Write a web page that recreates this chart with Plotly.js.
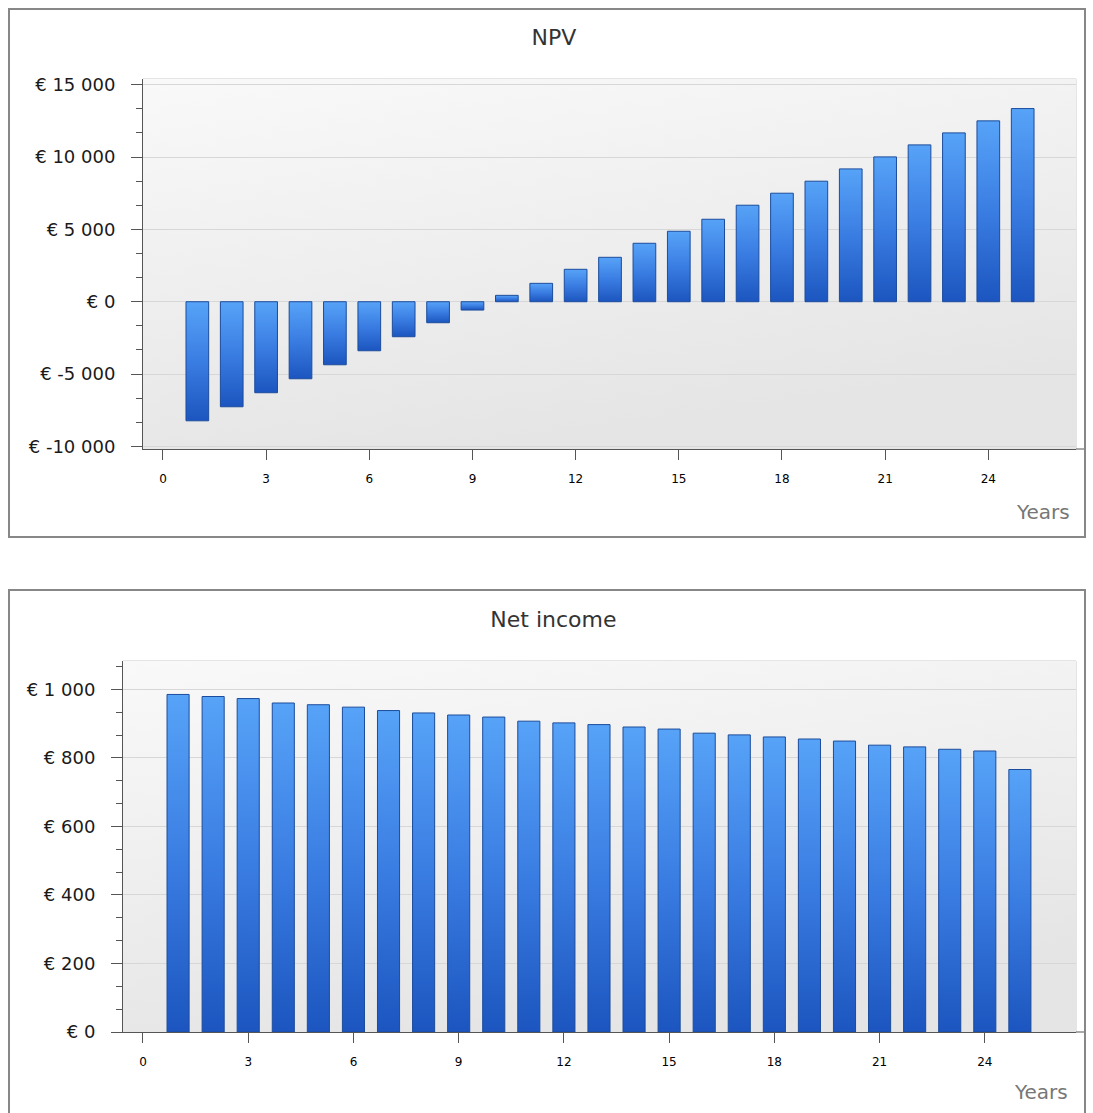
<!DOCTYPE html>
<html>
<head>
<meta charset="utf-8">
<script src="https://cdn.plot.ly/plotly-3.0.1.min.js"></script>
<style>
html,body{margin:0;padding:0;background:#fff;width:1093px;height:1113px;overflow:hidden;}
.frame{position:absolute;left:8px;width:1078px;box-sizing:border-box;border:2px solid #878787;background:#fff;}
#npv{top:8px;height:530px;}
#net{top:589px;height:540px;}
</style>
</head>
<body>
<svg width="0" height="0" style="position:absolute">
  <defs>
    <linearGradient id="barGrad" x1="0" y1="0" x2="0" y2="1">
      <stop offset="0" stop-color="#57a3f8"/>
      <stop offset="0.5" stop-color="#3a7de2"/>
      <stop offset="1" stop-color="#1c55bf"/>
    </linearGradient>
  </defs>
</svg>
<div id="npv" class="frame"></div>
<div id="net" class="frame"></div>
<script>
// ---- data ----
const years = [1,2,3,4,5,6,7,8,9,10,11,12,13,14,15,16,17,18,19,20,21,22,23,24,25];
const npvValues = [-8230,-7260,-6290,-5325,-4357,-3390,-2420,-1452,-575,440,1270,2240,3070,4040,4870,5700,6670,7500,8330,9180,10010,10840,11670,12500,13350];
const netIncomeValues = [985,979,973,960,955,948,938,931,925,919,907,902,897,890,884,872,867,861,855,849,837,832,825,820,766];
const xTickVals = [0,3,6,9,12,15,18,21,24];
const npvTickVals = [-10000,-5000,0,5000,10000,15000];
const npvTickText = ['€ -10 000','€ -5 000','€ 0','€ 5 000','€ 10 000','€ 15 000'];
const netTickVals = [0,200,400,600,800,1000];
const netTickText = ['€ 0','€ 200','€ 400','€ 600','€ 800','€ 1 000'];
const npvTitle = 'NPV';
const netTitle = 'Net income';
const xAxisLabel = 'Years';

// ---- styling ----
const FONT = 'DejaVu Sans, Verdana, sans-serif';
const bgSvg = '<svg xmlns="http://www.w3.org/2000/svg" width="100" height="100" viewBox="0 0 100 100" preserveAspectRatio="none">' +
  '<defs><linearGradient id="g" x1="0" y1="0" x2="0.35" y2="1">' +
  '<stop offset="0" stop-color="#f9f9f9"/><stop offset="1" stop-color="#e5e5e5"/></linearGradient></defs>' +
  '<rect width="100" height="100" fill="url(#g)"/></svg>';
const bgSource = 'data:image/svg+xml;charset=utf-8,' + encodeURIComponent(bgSvg);

function makeLayout(o) {
  return {
    width: 1074, height: o.h,
    margin: {l: o.l, r: 8, t: o.t, b: o.b, pad: 0},
    paper_bgcolor: '#ffffff', plot_bgcolor: '#efefef',
    showlegend: false,
    title: {text: o.title, font: {family: FONT, size: 22, color: '#333333'},
            x: o.tx, xref: 'container', xanchor: 'center',
            y: o.ty, yref: 'container', yanchor: 'middle'},
    xaxis: {range: o.xr, tickmode: 'array', tickvals: xTickVals,
            ticks: 'outside', ticklen: 10, tickwidth: 1, tickcolor: '#555555',
            showline: true, linecolor: '#555555', linewidth: 1,
            showgrid: false, zeroline: false, ticklabelstandoff: 9,
            tickfont: {family: FONT, size: 12, color: '#000000'}, fixedrange: true},
    yaxis: {range: o.yr, tickmode: 'array', tickvals: o.tv, ticktext: o.tt,
            ticks: 'outside', ticklen: 11, tickwidth: 1, tickcolor: '#555555',
            showline: true, linecolor: '#555555', linewidth: 1,
            showgrid: true, gridcolor: '#d7d7d7', gridwidth: 1, zeroline: false,
            ticklabelstandoff: 12,
            tickfont: {family: FONT, size: 18, color: '#1a1a1a'}, fixedrange: true,
            minor: {tickmode: 'linear', tick0: 0, dtick: o.minor, ticks: 'outside',
                    ticklen: 6, tickwidth: 1, tickcolor: '#555555', showgrid: false}},
    images: [{source: bgSource, xref: 'x domain', yref: 'y domain', x: 0, y: 1,
              sizex: 1, sizey: 1, xanchor: 'left', yanchor: 'top',
              sizing: 'stretch', layer: 'below'}],
    shapes: [{type: 'rect', xref: 'paper', yref: 'paper', x0: 0, x1: 1, y0: 0, y1: 1,
              line: {color: '#cbcbcb', width: 1}, layer: 'below'},
             {type: 'line', xref: 'paper', yref: 'paper', x0: 1, x1: 1.011, y0: 0, y1: 0,
              line: {color: '#555555', width: 1}, layer: 'above'}],
    annotations: [{text: xAxisLabel, xref: 'paper', yref: 'paper', x: 1, y: 0,
                   xanchor: 'right', yanchor: 'middle', xshift: o.ax, yshift: o.ay,
                   showarrow: false, font: {family: FONT, size: 20, color: '#777777'}}]
  };
}

function barTrace(yvals, w) {
  return {type: 'bar', x: years, y: yvals, width: w,
          marker: {color: '#3a7de2', line: {color: '#1b4c9c', width: 1}},
          hoverinfo: 'skip'};
}

function applyGradient(gd) {
  gd.querySelectorAll('.bars .point path').forEach(function (p) {
    p.style.fill = 'url(#barGrad)';
  });
}

const config = {displayModeBar: false, staticPlot: true};

Plotly.newPlot('npv', [barTrace(npvValues, 0.66)], makeLayout({
  h: 526, l: 132.7, t: 69.3, b: 86.7,
  title: npvTitle, tx: 0.5065, ty: 1 - 27.5 / 526,
  xr: [-0.58, 26.55], yr: [-10180, 15394],
  tv: npvTickVals, tt: npvTickText, minor: 5000 / 3,
  ax: -4, ay: -62.7
}), config).then(applyGradient);

Plotly.newPlot('net', [barTrace(netIncomeValues, 0.63)], makeLayout({
  h: 536, l: 112.7, t: 69.7, b: 95.3,
  title: netTitle, tx: 0.506, ty: 1 - 28 / 536,
  xr: [-0.57, 26.6], yr: [0, 1082.6],
  tv: netTickVals, tt: netTickText, minor: 200 / 3,
  ax: -6, ay: -60.3
}), config).then(applyGradient);
</script>
</body>
</html>
